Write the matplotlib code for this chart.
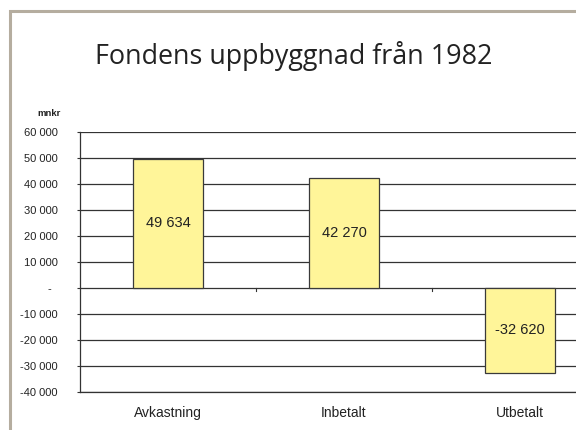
import matplotlib
matplotlib.use("Agg")
from matplotlib import pyplot as plt
from matplotlib.patches import Rectangle
import numpy as np

categories = ['Avkastning', 'Inbetalt', 'Utbetalt']
values = [49634, 42270, -32620]
yticks = [-40000, -30000, -20000, -10000, 0, 10000, 20000, 30000, 40000, 50000, 60000]

def fmt(v):
    if v == 0:
        return '-  '
    s = f'{abs(v):,}'.replace(',', ' ')
    return ('-' if v < 0 else '') + s

plt.rcParams['font.family'] = ['Liberation Sans', 'DejaVu Sans']

fig = plt.figure(figsize=(5.76, 4.30), dpi=100)
fig.patch.set_facecolor('white')

# outer frame (cut off at right and bottom)
fig.patches.append(Rectangle((9.5 / 576, -0.1), 1.2, 0.1 + 1 - 11 / 430,
                             transform=fig.transFigure, fill=False,
                             edgecolor='#b5ad9f', linewidth=2.2))

ax = fig.add_axes([80 / 576, 1 - 392 / 430, 528 / 576, 260 / 430])
x = np.arange(len(categories))
ax.bar(x, values, width=0.4, color='#fff599', edgecolor='#3a3a3a', linewidth=0.9, zorder=3)

for xi, v in zip(x, values):
    ax.text(xi, v / 2, fmt(v), ha='center', va='center', fontsize=10.5, color='#222222', zorder=4)

ax.set_xlim(-0.5, 2.5)
ax.set_ylim(-40000, 60000)
ax.set_yticks(yticks)
ax.set_yticklabels([fmt(v) for v in yticks], fontsize=8, color='#222222')
ax.yaxis.grid(True, color='#333333', linewidth=0.9, zorder=0)
ax.tick_params(axis='y', length=2.2, width=0.8, color='#333333', pad=14)

ax.set_xticks(x)
ax.set_xticklabels(categories, fontsize=10, color='#222222')
ax.tick_params(axis='x', length=0, pad=10)
# small ticks on the zero line between categories
for xb in [0.5, 1.5]:
    ax.plot([xb, xb], [0, -1000], color='#333333', linewidth=0.8, zorder=2, clip_on=False)

for side in ['top', 'right']:
    ax.spines[side].set_visible(False)
ax.spines['left'].set_color('#333333')
ax.spines['bottom'].set_color('#333333')
ax.spines['left'].set_linewidth(0.9)
ax.spines['bottom'].set_linewidth(0.9)

fig.text(294 / 576, 1 - 56 / 430, 'Fondens uppbyggnad från 1982', ha='center', va='center',
         fontsize=19.4, family='Open Sans', color='#222222')
fig.text(37 / 576, 1 - 113 / 430, 'mnkr', ha='left', va='center', fontsize=6.8,
         fontweight='bold', color='#222222')

fig.savefig('out.png', dpi=100)
